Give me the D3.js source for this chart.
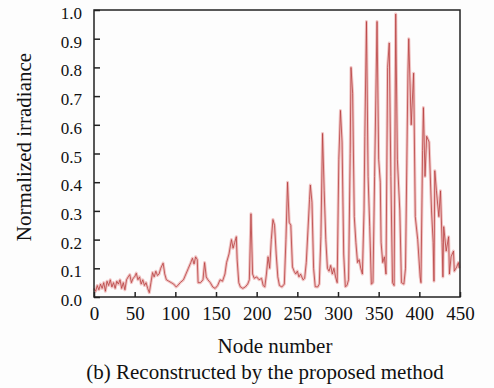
<!DOCTYPE html>
<html>
<head>
<meta charset="utf-8">
<script src="https://cdn.jsdelivr.net/npm/d3@7"></script>
<style>
  body { margin: 0; background: #fdfdfd; }
  svg text { font-family: "Liberation Serif", "Times New Roman", serif; fill: #111; }
</style>
</head>
<body>
<div id="chart"></div>
<script>
// node positions and normalized irradiance
const nodes = [0,2,4,6,8,10,12,14,16,18,20,22,24,26,28,30,32,34,36,38,40,42,44,46,48,50,52,54,56,58,60,62,64,66,68,70,72,74,76,78,80,82,85,87,89,92,95,98,101,103,106,110,113,116,119,121,123,125,127,128,131,134,136,138,140,143,146,149,152,155,158,161,163,166,169,171,173,175,176,178,180,183,186,189,191,193,195,197,200,203,206,208,210,212,214,216,218,220,222,224,226,228,231,234,236,238,240,242,244,246,248,250,252,254,257,259,261,263,265,266,268,270,272,275,277,279,281,283,285,287,289,291,293,295,297,299,301,303,305,307,309,311,313,315,316,318,320,322,324,326,328,330,332,333,335,337,339,341,343,345,348,350,352,353,355,357,359,361,363,365,367,369,371,373,376,378,381,383,386,387,390,393,395,398,401,402,404,405,407,409,412,415,417,418,419,421,424,426,428,429,430,433,436,437,439,442,443,446,448,449];
const irradiance = [0.03,0.02,0.04,0.025,0.045,0.03,0.05,0.02,0.055,0.04,0.06,0.035,0.05,0.03,0.055,0.045,0.06,0.03,0.05,0.025,0.06,0.07,0.078,0.05,0.065,0.07,0.083,0.06,0.07,0.045,0.06,0.04,0.05,0.03,0.015,0.05,0.085,0.07,0.09,0.075,0.08,0.1,0.118,0.08,0.06,0.055,0.05,0.045,0.035,0.04,0.05,0.06,0.08,0.1,0.12,0.135,0.115,0.14,0.13,0.05,0.05,0.06,0.12,0.07,0.06,0.05,0.035,0.03,0.04,0.06,0.055,0.08,0.12,0.15,0.2,0.17,0.19,0.21,0.13,0.05,0.035,0.03,0.035,0.045,0.06,0.29,0.08,0.065,0.07,0.06,0.065,0.04,0.035,0.08,0.14,0.1,0.2,0.27,0.25,0.15,0.07,0.04,0.035,0.045,0.2,0.40,0.26,0.25,0.105,0.09,0.08,0.09,0.07,0.08,0.06,0.065,0.12,0.23,0.34,0.39,0.33,0.1,0.036,0.035,0.045,0.21,0.57,0.37,0.2,0.1,0.09,0.11,0.08,0.1,0.07,0.05,0.48,0.65,0.54,0.15,0.036,0.04,0.06,0.5,0.80,0.71,0.28,0.19,0.12,0.13,0.1,0.08,0.3,0.56,0.96,0.42,0.245,0.045,0.05,0.42,0.96,0.48,0.40,0.19,0.12,0.14,0.08,0.8,0.885,0.42,0.05,0.04,0.986,0.48,0.30,0.05,0.045,0.1,0.78,0.90,0.60,0.78,0.28,0.2,0.07,0.05,0.51,0.66,0.42,0.56,0.54,0.30,0.19,0.055,0.44,0.37,0.28,0.37,0.19,0.07,0.245,0.16,0.21,0.08,0.14,0.16,0.09,0.105,0.12,0.1];
const xTicks = [0,50,100,150,200,250,300,350,400,450];
const yTicks = [0,0.1,0.2,0.3,0.4,0.5,0.6,0.7,0.8,0.9,1.0];

const w = 494, h = 388;
const plotL = 94, plotR = 460, plotT = 10, plotB = 297;
const serif = '"Liberation Serif", "Times New Roman", serif';

const svg = d3.select('#chart').append('svg').attr('width', w).attr('height', h)
  .attr('font-family', serif);

const x = d3.scaleLinear().domain([0, 450]).range([plotL, plotR]);
const y = d3.scaleLinear().domain([0, 1]).range([plotB, plotT]);

const data = nodes.map((n, i) => ({ n: n, v: irradiance[i] }));
const line = d3.line().x(d => x(d.n)).y(d => y(d.v));

// light halo under the trace
svg.append('path').datum(data)
  .attr('d', line)
  .attr('fill', 'none')
  .attr('stroke', '#f0c4c4')
  .attr('stroke-width', 3)
  .attr('stroke-linejoin', 'round');

svg.append('path').datum(data)
  .attr('d', line)
  .attr('fill', 'none')
  .attr('stroke', '#b84040')
  .attr('stroke-width', 0.8)
  .attr('stroke-linejoin', 'round');

// frame
svg.append('rect')
  .attr('x', plotL).attr('y', plotT)
  .attr('width', plotR - plotL).attr('height', plotB - plotT)
  .attr('fill', 'none').attr('stroke', '#222').attr('stroke-width', 1.5);

const xAxis = svg.append('g')
  .attr('transform', `translate(0,${plotB})`)
  .call(d3.axisBottom(x).tickValues(xTicks).tickSizeInner(-5).tickSizeOuter(0).tickPadding(10).tickFormat(d3.format('d')))
  .attr('font-family', serif);
xAxis.select('.domain').remove();
xAxis.selectAll('line').attr('stroke', '#222').attr('stroke-width', 1.5);
xAxis.selectAll('text').attr('font-size', 19).attr('fill', '#111');

const yAxis = svg.append('g')
  .attr('transform', `translate(${plotL},0)`)
  .call(d3.axisLeft(y).tickValues(yTicks).tickSizeInner(-6).tickSizeOuter(0).tickPadding(12).tickFormat(d3.format('.1f')))
  .attr('font-family', serif);
yAxis.select('.domain').remove();
yAxis.selectAll('line').attr('stroke', '#222').attr('stroke-width', 1.5);
yAxis.selectAll('text').attr('font-size', 17).attr('fill', '#111').attr('dy', '0.5em');

svg.append('text')
  .attr('x', (plotL + plotR) / 2 - 2).attr('y', 353)
  .attr('text-anchor', 'middle').attr('font-size', 21)
  .text('Node number');

svg.append('text')
  .attr('x', 265).attr('y', 379)
  .attr('text-anchor', 'middle').attr('font-size', 21)
  .text('(b) Reconstructed by the proposed method');

svg.append('text')
  .attr('transform', 'translate(31,147) rotate(-90)')
  .attr('text-anchor', 'middle').attr('font-size', 21)
  .text('Normalized irradiance');
</script>
</body>
</html>
